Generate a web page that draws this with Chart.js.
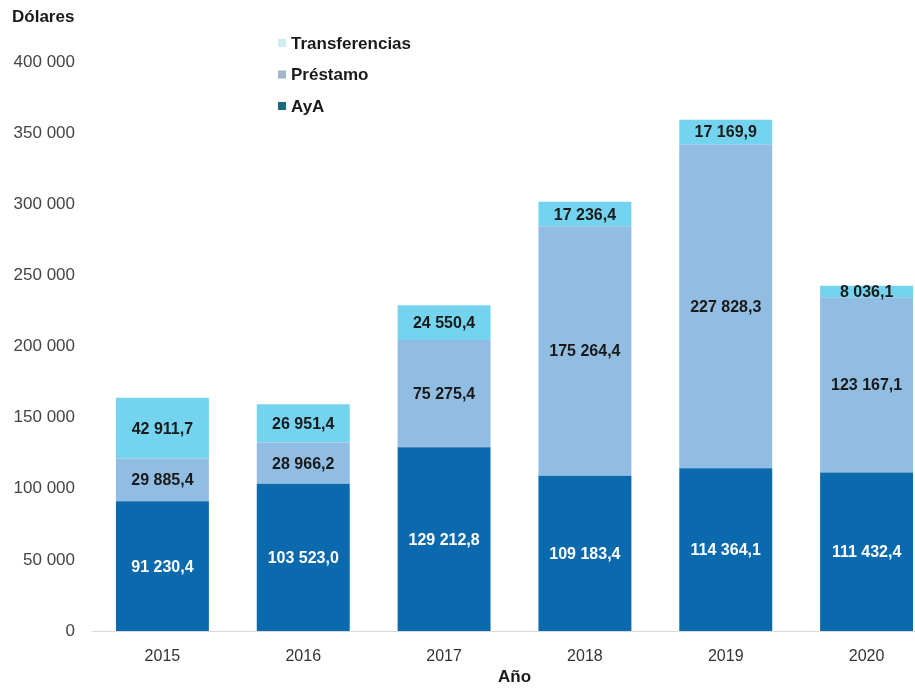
<!DOCTYPE html>
<html><head><meta charset="utf-8">
<script src="https://cdn.jsdelivr.net/npm/chart.js@4/dist/chart.umd.min.js"></script>
<style>
html,body{margin:0;padding:0;background:#fff;overflow:hidden;width:915px;height:688px}
#wrap{position:relative;width:937px;height:688px}
</style></head><body>
<div id="wrap"><canvas id="c" width="937" height="688"></canvas></div>
<script>
const years = ['2015','2016','2017','2018','2019','2020'];
const aya = [91230.4, 103523.0, 129212.8, 109183.4, 114364.1, 111432.4];
const prestamo = [29885.4, 28966.2, 75275.4, 175264.4, 227828.3, 123167.1];
const transferencias = [42911.7, 26951.4, 24550.4, 17236.4, 17169.9, 8036.1];
const yTicks = [0, 50000, 100000, 150000, 200000, 250000, 300000, 350000, 400000];

const FONT = '"Liberation Sans", Arial, sans-serif';
function fmt(v, dec){
  const s = v.toFixed(dec);
  let [i, d] = s.split('.');
  i = i.replace(/\B(?=(\d{3})+(?!\d))/g, ' ');
  return d ? i + ',' + d : i;
}

const labelPlugin = {
  id: 'barLabels',
  afterDatasetsDraw(chart){
    const ctx = chart.ctx;
    ctx.save();
    ctx.font = 'bold 16px ' + FONT;
    ctx.textAlign = 'center';
    ctx.textBaseline = 'middle';
    chart.data.datasets.forEach((ds, di) => {
      const meta = chart.getDatasetMeta(di);
      meta.data.forEach((bar, i) => {
        const yc = (bar.y + bar.base) / 2;
        ctx.fillStyle = ds.labelColor;
        ctx.fillText(fmt(ds.data[i], 1), bar.x, yc + 1);
      });
    });
    ctx.restore();
  }
};

const extrasPlugin = {
  id: 'extras',
  afterDraw(chart){
    const ctx = chart.ctx;
    ctx.save();
    ctx.fillStyle = '#1a1a1a';
    ctx.font = 'bold 17px ' + FONT;
    ctx.textAlign = 'left';
    ctx.textBaseline = 'middle';
    ctx.fillText('Dólares', 12, 17);
    const items = [
      {t:'Transferencias', c:'#d2ebec'},
      {t:'Préstamo', c:'#a2b5ca'},
      {t:'AyA', c:'#1d6a7a'}
    ];
    items.forEach((it, k) => {
      const y = 43 + k * 31.5;
      ctx.fillStyle = it.c;
      ctx.fillRect(278, y - 4, 8, 8);
      ctx.fillStyle = '#1a1a1a';
      ctx.fillText(it.t, 291, y + 1);
    });
    ctx.restore();
  }
};

new Chart(document.getElementById('c'), {
  type: 'bar',
  data: {
    labels: years,
    datasets: [
      {label:'AyA', data: aya, backgroundColor:'#0b6aae', labelColor:'#ffffff'},
      {label:'Préstamo', data: prestamo, backgroundColor:'#92bde3', labelColor:'#1a1a1a'},
      {label:'Transferencias', data: transferencias, backgroundColor:'#74d3ee', labelColor:'#1a1a1a'}
    ]
  },
  options: {
    responsive: false,
    animation: false,
    layout: {padding: {top: 62, right: 0, bottom: 0, left: 0}},
    plugins: {legend: {display: false}, tooltip: {enabled: false}},
    datasets: {bar: {barPercentage: 0.66, categoryPercentage: 1.0, borderWidth: 0}},
    scales: {
      x: {
        stacked: true,
        grid: {display: false, drawTicks: false},
        border: {display: true, color: '#d9d9d9', width: 1},
        ticks: {color: '#333', font: {family: FONT, size: 16}, padding: 16},
        title: {display: true, text: 'Año', color: '#1a1a1a', font: {family: FONT, size: 17, weight: 'bold'}, padding: {top: 2, bottom: 0}},
        afterFit(s){ s.height = 57; }
      },
      y: {
        stacked: true,
        min: 0, max: 400000,
        afterBuildTicks(s){ s.ticks = yTicks.map(v => ({value: v})); },
        grid: {display: false, drawTicks: false},
        border: {display: false},
        ticks: {color: '#444', font: {family: FONT, size: 17}, padding: 17, callback: v => fmt(v, 0)},
        afterFit(s){ s.width = 92; }
      }
    }
  },
  plugins: [labelPlugin, extrasPlugin]
});
</script>
</body></html>
